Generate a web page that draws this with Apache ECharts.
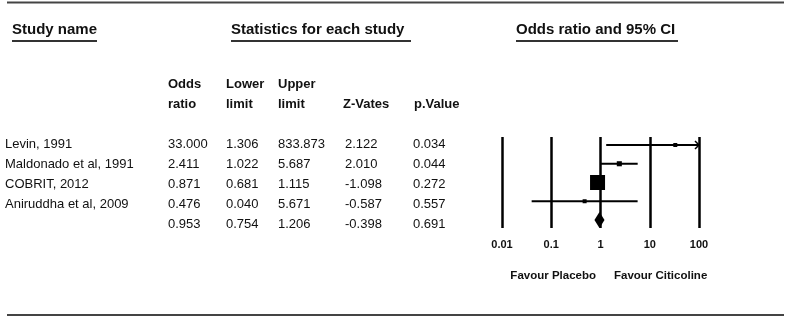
<!DOCTYPE html>
<html>
<head>
<meta charset="utf-8">
<script src="https://cdn.jsdelivr.net/npm/echarts@6/dist/echarts.min.js"></script>
<style>
	html, body { margin: 0; padding: 0; background: #fff; }
	#chart { width: 790px; height: 322px; }
</style>
</head>
<body>
<div id="chart"></div>
<script>
// study data
const studies = [ 'Levin, 1991', 'Maldonado et al, 1991', 'COBRIT, 2012', 'Aniruddha et al, 2009' ];
const oddsRatio = [ 33.000, 2.411, 0.871, 0.476 ];
const lowerLimit = [ 1.306, 1.022, 0.681, 0.040 ];
const upperLimit = [ 833.873, 5.687, 1.115, 5.671 ];
const zValues = [ 2.122, 2.010, -1.098, -0.587 ];
const pValues = [ 0.034, 0.044, 0.272, 0.557 ];
// relative weights, estimated from the square sizes
const weights = [ 2, 10, 88, 2.5 ];
// pooled result: odds, lower, upper, z, p
const summaryRow = [ 0.953, 0.754, 1.206, -0.398, 0.691 ];
const tickLabels = [ '0.01', '0.1', '1', '10', '100' ];
const favourLabels = [ 'Favour Placebo', 'Favour Citicoline' ];

const AXIS_MIN = 0.01;
const AXIS_MAX = 100;
const FONT = '"Liberation Sans", Arial, sans-serif';
const INK = '#111';

const colX = [ 168, 226, 278, 345, 413 ];
const rowY = ( i ) => 144 + i * 20;

function text( str, x, y, size, bold, align ) {
	return {
		type: 'text',
		x: x,
		y: y,
		silent: true,
		style: {
			text: str,
			font: ( bold ? 'bold ' : '' ) + size + 'px ' + FONT,
			fill: INK,
			align: align || 'left',
			verticalAlign: 'middle'
		}
	};
}

function hline( x1, x2, y, width, color ) {
	return {
		type: 'line',
		silent: true,
		shape: { x1: x1, y1: y, x2: x2, y2: y },
		style: { stroke: color || '#333', lineWidth: width }
	};
}

const graphics = [
	hline( 7, 784, 2.5, 2, '#444' ),
	hline( 7, 784, 315, 2, '#444' ),
	text( 'Study name', 12, 30, 15, true ),
	hline( 12, 97, 41, 2 ),
	text( 'Statistics for each study', 231, 30, 15, true ),
	hline( 231, 411, 41, 2 ),
	text( 'Odds ratio and 95% CI', 516, 30, 15, true ),
	hline( 516, 678, 41, 2 ),
	text( 'Odds', colX[ 0 ], 84, 13, true ),
	text( 'ratio', colX[ 0 ], 104, 13, true ),
	text( 'Lower', colX[ 1 ], 84, 13, true ),
	text( 'limit', colX[ 1 ], 104, 13, true ),
	text( 'Upper', colX[ 2 ], 84, 13, true ),
	text( 'limit', colX[ 2 ], 104, 13, true ),
	text( 'Z-Vates', colX[ 3 ] - 2, 104, 13, true ),
	text( 'p.Value', colX[ 4 ] + 1, 104, 13, true ),
	text( favourLabels[ 0 ], 596, 276, 11.5, true, 'right' ),
	text( favourLabels[ 1 ], 614, 276, 11.5, true )
];

studies.forEach( ( name, i ) => {
	const y = rowY( i );
	graphics.push( text( name, 5, y, 13, false ) );
	[ oddsRatio[ i ], lowerLimit[ i ], upperLimit[ i ], zValues[ i ], pValues[ i ] ].forEach( ( v, c ) => {
		graphics.push( text( v.toFixed( 3 ), colX[ c ], y, 13, false ) );
	} );
} );
summaryRow.forEach( ( v, c ) => {
	graphics.push( text( v.toFixed( 3 ), colX[ c ], rowY( studies.length ), 13, false ) );
} );

// confidence interval lines, clipped at the axis max with an arrow
const ciData = studies.map( ( s, i ) => [ lowerLimit[ i ], i, upperLimit[ i ] ] );
const squareData = studies.map( ( s, i ) => [ oddsRatio[ i ], i ] );
const squareSizes = weights.map( ( w ) => Math.max( 4, 1.6 * Math.sqrt( w ) ) );

const chart = echarts.init( document.getElementById( 'chart' ) );
chart.setOption( {
	animation: false,
	backgroundColor: '#fff',
	graphic: graphics,
	grid: { left: 502, width: 197, top: 137, height: 91 },
	xAxis: {
		type: 'log',
		logBase: 10,
		min: AXIS_MIN,
		max: AXIS_MAX,
		axisLine: { show: false },
		axisTick: { show: false },
		splitLine: { show: true, lineStyle: { color: '#000', width: 2.5 } },
		axisLabel: {
			margin: 11,
			fontSize: 11,
			fontWeight: 'bold',
			fontFamily: FONT,
			color: INK,
			formatter: ( value, index ) => tickLabels[ index ]
		}
	},
	yAxis: {
		type: 'value',
		inverse: true,
		min: -0.427,
		max: 4.427,
		show: false
	},
	series: [
		{
			type: 'custom',
			data: ciData,
			encode: { x: [ 0, 2 ], y: 1 },
			renderItem: function ( params, api ) {
				const row = api.value( 1 );
				const lo = api.value( 0 );
				const hi = api.value( 2 );
				const p1 = api.coord( [ Math.max( lo, AXIS_MIN ), row ] );
				const p2 = api.coord( [ Math.min( hi, AXIS_MAX ), row ] );
				const children = [ {
					type: 'line',
					shape: { x1: p1[ 0 ], y1: p1[ 1 ], x2: p2[ 0 ], y2: p2[ 1 ] },
					style: { stroke: '#000', lineWidth: 2 }
				} ];
				if ( hi > AXIS_MAX ) {
					children.push( {
						type: 'polyline',
						shape: { points: [ [ p2[ 0 ] - 4, p2[ 1 ] - 4 ], [ p2[ 0 ], p2[ 1 ] ], [ p2[ 0 ] - 4, p2[ 1 ] + 4 ] ] },
						style: { stroke: '#000', lineWidth: 1.5, fill: null }
					} );
				}
				return { type: 'group', children: children };
			}
		},
		{
			type: 'scatter',
			data: squareData,
			symbol: 'rect',
			symbolSize: ( val, params ) => squareSizes[ params.dataIndex ],
			itemStyle: { color: '#000', opacity: 1 },
			z: 5
		},
		{
			type: 'custom',
			data: [ [ summaryRow[ 1 ], studies.length, summaryRow[ 2 ], summaryRow[ 0 ] ] ],
			encode: { x: [ 0, 2, 3 ], y: 1 },
			renderItem: function ( params, api ) {
				const row = api.value( 1 );
				const left = api.coord( [ api.value( 0 ), row ] );
				const right = api.coord( [ api.value( 2 ), row ] );
				const mid = api.coord( [ api.value( 3 ), row ] );
				return {
					type: 'polygon',
					shape: { points: [ left, [ mid[ 0 ], mid[ 1 ] - 8 ], right, [ mid[ 0 ], mid[ 1 ] + 8 ] ] },
					style: { fill: '#000' }
				};
			},
			z: 5
		}
	]
} );
</script>
</body>
</html>
